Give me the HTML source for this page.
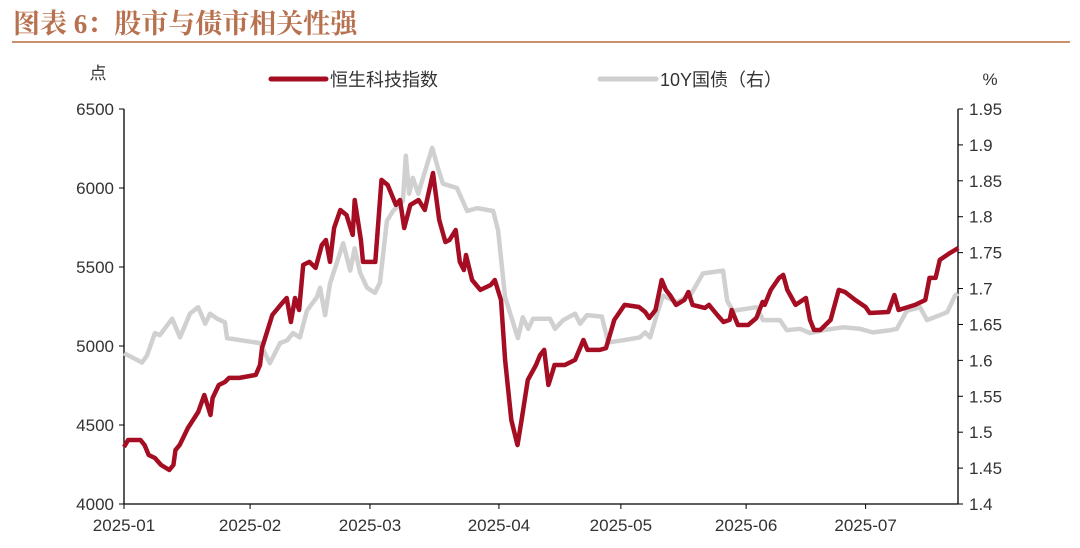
<!DOCTYPE html>
<html><head><meta charset="utf-8">
<style>
html,body{margin:0;padding:0;background:#fff;}
body{width:1080px;height:543px;overflow:hidden;position:relative;font-family:"Liberation Sans","Noto Sans CJK SC",sans-serif;}
</style></head>
<body>
<svg width="1080" height="543" viewBox="0 0 1080 543" xmlns="http://www.w3.org/2000/svg">
<text x="13" y="33" font-family="'Liberation Serif','Noto Serif CJK SC',serif" font-size="27" font-weight="bold" fill="#b8714f">图表 6：股市与债市相关性强</text>
<rect x="12" y="41" width="1058" height="2" fill="#c9906f"/>
<text x="98" y="79" font-size="17" fill="#333" font-family="'Liberation Sans','Noto Sans CJK SC',sans-serif" text-anchor="middle">点</text>
<text x="990" y="85" font-size="17" fill="#333" text-anchor="middle">%</text>
<g>
<line x1="271" y1="79" x2="326" y2="79" stroke="#a50d23" stroke-width="5" stroke-linecap="round"/>
<text x="330" y="86" font-size="18" fill="#333" font-family="'Liberation Sans','Noto Sans CJK SC',sans-serif">恒生科技指数</text>
</g>
<g>
<line x1="600" y1="79" x2="656" y2="79" stroke="#cfcfcf" stroke-width="5" stroke-linecap="round"/>
<text x="660" y="86" font-size="18" fill="#333" font-family="'Liberation Sans','Noto Sans CJK SC',sans-serif">10Y国债（右）</text>
</g>
<g id="axes"></g>
<g id="series"></g>
</svg>
<script>
const xTickLabels=["2025-01","2025-02","2025-03","2025-04","2025-05","2025-06","2025-07"];
const xTickDays=[0,30.6,59.7,91,120.6,151,180];
const leftTicks=[4000,4500,5000,5500,6000,6500];
const rightTicks=[1.4,1.45,1.5,1.55,1.6,1.65,1.7,1.75,1.8,1.85,1.9,1.95];
const hstechDays=[0,1,4,5,6,7.5,9,11,12,12.5,13.5,15.5,18,19.5,21,21.5,23,24.5,25.5,28,32,33,33.5,34.5,36,38,39.5,40.5,41.5,42.5,43.5,45,46.5,48,49,50,51,52.5,54,55.5,56,57.5,58,61,62.5,64,66,67,68,69.5,71.5,73,75,76.5,78,79,80.5,81.5,82.5,83,84.5,86.5,89,90,91.5,92.5,94,95.5,96.5,98,100,101,102,103,104,104.5,107,109.5,110.5,111.5,112.5,115.5,117,119,121.5,125,126.5,127.5,129,130.5,131.5,132.5,134,136,137,138,141,142,144,145.5,147,147.5,149,151.5,153.5,155,155.5,157,159,160,161,163,165.5,166.5,167.5,169,171.5,173.5,175,177.5,180,181,185.5,187,188,192,194.5,195.5,197,198,200.5,202.5];
const hstechValues=[4361,4405,4405,4373,4310,4291,4247,4215,4247,4342,4373,4481,4582,4690,4563,4671,4753,4772,4798,4798,4817,4880,4987,5070,5196,5260,5304,5152,5304,5228,5513,5532,5494,5639,5671,5532,5747,5861,5829,5703,5924,5671,5532,5532,6051,6019,5893,5924,5747,5893,5924,5861,6095,5798,5658,5671,5734,5532,5481,5576,5418,5355,5386,5418,5291,4912,4532,4373,4532,4785,4880,4943,4975,4753,4836,4880,4880,4912,4975,5038,4975,4975,4987,5165,5260,5247,5215,5177,5228,5418,5355,5323,5260,5291,5342,5260,5241,5260,5196,5152,5165,5228,5133,5133,5177,5279,5260,5355,5431,5450,5355,5260,5304,5165,5101,5101,5165,5355,5342,5291,5247,5209,5215,5323,5228,5260,5291,5431,5431,5545,5589,5620];
const bondDays=[0,4.4,5.6,7.5,8.7,11.7,13.6,16,18,19.7,20.9,22.6,24.5,25,33,35.4,37.9,39.6,41,42.7,44.4,46.8,47.6,48.8,50,53.2,54.9,56,57.3,59,60.9,62.1,63.8,65.3,67.7,68.4,69.2,70.1,71.4,74.8,76.2,77.4,80.8,83.3,85.7,89.6,90.8,92.5,95.6,96.8,98.1,99.3,103.4,104.6,106.6,109.5,110.7,112.4,116,117.5,121.1,125.2,126.5,127.7,129.4,130.8,134.2,137.4,140.5,145.4,146.4,147.8,153.6,155.1,159.2,160.9,164.1,166.5,169.7,174.5,178.6,181.8,186,187.6,190,193.2,194.9,199.8,201.7,202.4];
const bondValues=[1.610,1.597,1.607,1.638,1.635,1.658,1.632,1.665,1.674,1.651,1.665,1.658,1.653,1.631,1.624,1.596,1.624,1.628,1.638,1.632,1.669,1.688,1.701,1.663,1.707,1.763,1.725,1.756,1.722,1.701,1.694,1.708,1.794,1.808,1.822,1.885,1.832,1.854,1.832,1.896,1.868,1.846,1.840,1.808,1.812,1.808,1.781,1.688,1.631,1.660,1.644,1.658,1.658,1.644,1.656,1.665,1.651,1.663,1.661,1.625,1.628,1.632,1.639,1.632,1.665,1.690,1.681,1.690,1.721,1.725,1.683,1.669,1.674,1.656,1.656,1.642,1.644,1.638,1.642,1.646,1.644,1.639,1.642,1.644,1.669,1.674,1.656,1.667,1.690,1.693];

const NS="http://www.w3.org/2000/svg";
const X0=124,X1=958,Y0=504,Y1=109;
const xScale=d=>X0+d*4.12;
const yL=v=>Y0-(v-4000)/2500*(Y0-Y1);
const yR=v=>Y0-(v-1.4)/0.55*(Y0-Y1);
function mk(tag,attrs,parent){const e=document.createElementNS(NS,tag);for(const k in attrs)e.setAttribute(k,attrs[k]);parent.appendChild(e);return e;}
const axes=document.getElementById('axes');
const series=document.getElementById('series');
let e;
e=mk('line',{x1:X0,y1:Y1,x2:X0,y2:Y0,stroke:'#000','stroke-width':1.3},axes);


e=mk('line',{x1:X1,y1:Y1,x2:X1,y2:Y0,stroke:'#000','stroke-width':1.3},axes);


e=mk('line',{x1:X0,y1:Y0,x2:X1,y2:Y0,stroke:'#000','stroke-width':1.3},axes);


leftTicks.forEach(v=>{const y=yL(v);
 mk('line',{x1:X0-5,y1:y,x2:X0,y2:y,stroke:'#000'},axes);
 e=mk('text',{x:X0-10,y:y+6,'text-anchor':'end','font-size':17,fill:'#333'},axes);e.textContent=v;
 
 
});
rightTicks.forEach(v=>{const y=yR(v);
 mk('line',{x1:X1,y1:y,x2:X1+5,y2:y,stroke:'#000'},axes);
 e=mk('text',{x:X1+11,y:y+6,'text-anchor':'start','font-size':17,fill:'#333'},axes);e.textContent=String(v);
 
 
});
xTickLabels.forEach((l,i)=>{const x=xScale(xTickDays[i]);
 mk('line',{x1:x,y1:Y0,x2:x,y2:Y0+5,stroke:'#000'},axes);
 e=mk('text',{x:x,y:Y0+27,'text-anchor':'middle','font-size':17,fill:'#333'},axes);e.textContent=l;
 
 
});
e=mk('polyline',{points:bondDays.map((d,i)=>xScale(d).toFixed(1)+','+yR(bondValues[i]).toFixed(1)).join(' '),fill:'none',stroke:'#d0d0d0','stroke-width':4.5,'stroke-linejoin':'round'},series);


e=mk('polyline',{points:hstechDays.map((d,i)=>xScale(d).toFixed(1)+','+yL(hstechValues[i]).toFixed(1)).join(' '),fill:'none',stroke:'#a50d23','stroke-width':4.5,'stroke-linejoin':'round'},series);


</script>
</body></html>
